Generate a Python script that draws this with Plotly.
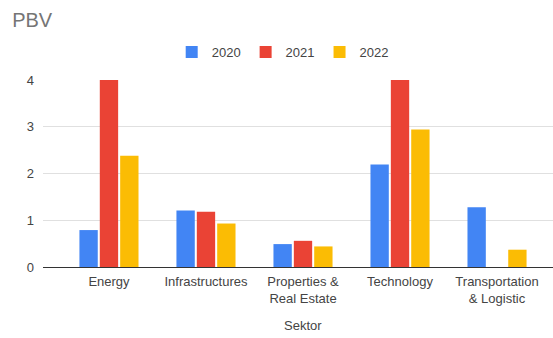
import plotly.graph_objects as go

categories = ["Energy", "Infrastructures", "Properties &<br>Real Estate", "Technology", "Transportation<br>& Logistic"]
v2020 = [0.79, 1.21, 0.49, 2.19, 1.28]
v2021 = [4.0, 1.18, 0.56, 4.0, None]
v2022 = [2.38, 0.93, 0.44, 2.94, 0.37]
series_names = ["2020", "2021", "2022"]
colors = ["#4285F4", "#EA4335", "#FBBC04"]

fig = go.Figure()
for name, vals, c in zip(series_names, [v2020, v2021, v2022], colors):
    fig.add_trace(go.Bar(x=list(range(len(categories))), y=vals, name=name, marker_color=c,
                         marker_line_width=0))

font = "Liberation Sans, Arial, sans-serif"
fig.update_layout(
    width=553, height=338,
    margin=dict(l=43, r=0, t=80, b=71),
    paper_bgcolor="white", plot_bgcolor="white",
    barmode="group", bargap=0.37, bargroupgap=0.1,
    font=dict(family=font, size=13, color="#444444"),
    title=dict(text="PBV", x=0.022, xanchor="left", y=0.94, yanchor="middle",
               font=dict(size=20, color="#757575", family=font)),
    legend=dict(orientation="h", x=0.47, xanchor="center", y=1.0 + 28/187, yanchor="middle",
                font=dict(size=13, color="#444444"), itemwidth=30, traceorder="normal"),
    showlegend=True,
)
fig.update_xaxes(tickmode="array", tickvals=list(range(len(categories))), ticktext=categories,
                 range=[-0.68, 4.577], showgrid=False, ticks="", ticklen=0,
                 ticklabelstandoff=5,
                 tickfont=dict(size=13, color="#444444"))
fig.update_yaxes(range=[0, 4], tickvals=[0, 1, 2, 3, 4], showgrid=True, gridcolor="#E0E0E0",
                 zeroline=True, zerolinecolor="#333333", zerolinewidth=1,
                 ticks="", ticklabelstandoff=8, tickfont=dict(size=13, color="#444444"))
fig.add_annotation(text="Sektor", xref="paper", yref="paper", x=(303-43)/510, y=-(325-266.7)/187,
                   xanchor="center", yanchor="middle", showarrow=False,
                   font=dict(size=13, color="#444444"))
fig.write_html("out.html")
